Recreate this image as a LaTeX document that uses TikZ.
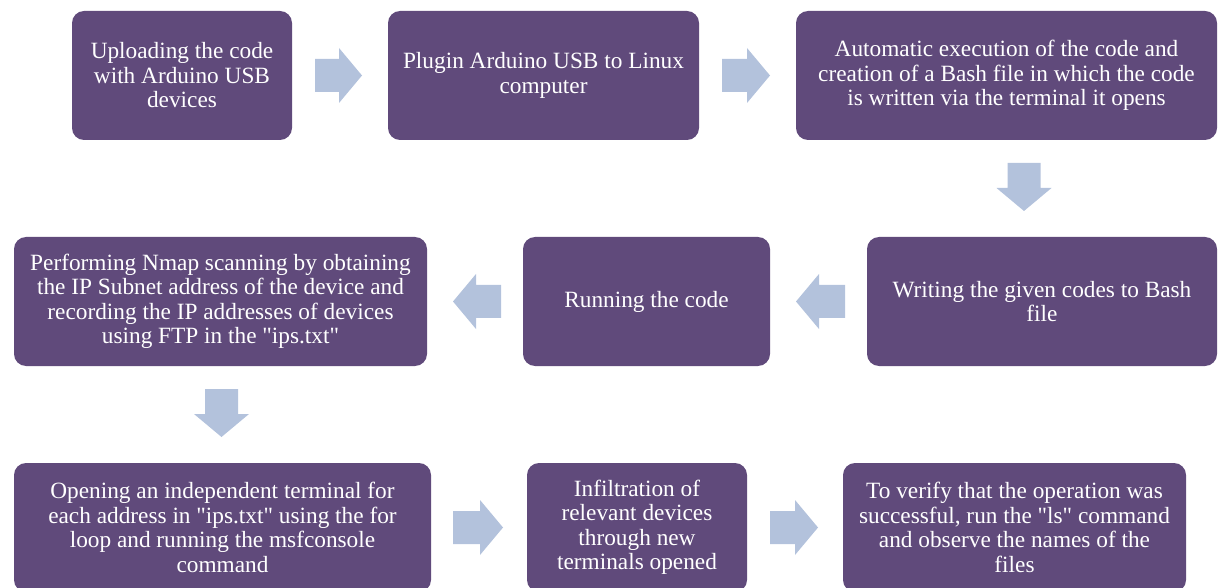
\documentclass[tikz,border=0pt]{standalone}
\usepackage{fontspec}
\newfontfamily\boxfont{Liberation Serif}
\definecolor{boxpurple}{RGB}{96,74,123}
\definecolor{arrowblue}{RGB}{179,194,220}
\tikzset{
  stepbox/.style={draw=none, fill=boxpurple, rounded corners=12pt, text=white, align=center,
    font=\boxfont\fontsize{23.3}{24.5}\selectfont, inner sep=0pt},
  blockarrow/.style={fill=arrowblue, draw=none}
}
\newcommand{\rarrow}[3]{% x0, x1, yc
  \fill[blockarrow] (#1,#3-16.5) -- (#2-23,#3-16.5) -- (#2-23,#3-27.5) -- (#2,#3) -- (#2-23,#3+27.5) -- (#2-23,#3+16.5) -- (#1,#3+16.5) -- cycle;}
\newcommand{\larrow}[3]{% x0 (tip), x1, yc
  \fill[blockarrow] (#2,#3-16.5) -- (#1+23,#3-16.5) -- (#1+23,#3-27.5) -- (#1,#3) -- (#1+23,#3+27.5) -- (#1+23,#3+16.5) -- (#2,#3+16.5) -- cycle;}
\newcommand{\darrow}[3]{% xc, y0, y1(tip)
  \fill[blockarrow] (#1-16.5,#2) -- (#1+16.5,#2) -- (#1+16.5,#3-23) -- (#1+27.5,#3-23) -- (#1,#3) -- (#1-27.5,#3-23) -- (#1-16.5,#3-23) -- cycle;}
\begin{document}
\begin{tikzpicture}[x=1pt,y=-1pt]
\useasboundingbox (0,0) rectangle (1219,588);
% row 1
\node[stepbox, minimum width=220pt, minimum height=129pt] (b1) at (182,75.5)
  {Uploading the code\\with Arduino USB\\devices};
\node[stepbox, minimum width=311pt, minimum height=129pt] (b2) at (543.5,75.5)
  {Plugin Arduino USB to Linux\\computer};
\node[stepbox, minimum width=421pt, minimum height=129pt] (b3) at (1006.5,75.5)
  {Automatic execution of the code and\\creation of a Bash file in which the code\\is written via the terminal it opens};
% row 2
\node[stepbox, minimum width=413pt, minimum height=129pt] (b4) at (220.5,301.5)
  {Performing Nmap scanning by obtaining\\the IP Subnet address of the device and\\recording the IP addresses of devices\\using FTP in the "ips.txt"};
\node[stepbox, minimum width=247pt, minimum height=129pt] (b5) at (646.5,301.5)
  {Running the code};
\node[stepbox, minimum width=350pt, minimum height=129pt] (b6) at (1042,301.5)
  {Writing the given codes to Bash\\file};
% row 3
\node[stepbox, minimum width=417pt, minimum height=129pt] (b7) at (222.5,527.5)
  {Opening an independent terminal for\\each address in "ips.txt" using the for\\loop and running the msfconsole\\command};
\node[stepbox, minimum width=220pt, minimum height=129pt] (b8) at (637,527.5)
  {Infiltration of\\relevant devices\\through new\\terminals opened};
\node[stepbox, minimum width=343pt, minimum height=129pt] (b9) at (1014.5,527.5)
  {To verify that the operation was\\successful, run the "ls" command\\and observe the names of the\\files};
% arrows
\rarrow{315}{362}{75.5}
\rarrow{722}{770}{75.5}
\darrow{1024}{163}{211}
\larrow{453}{501}{301.5}
\larrow{796}{845}{301.5}
\darrow{221.5}{389}{437}
\rarrow{453}{503}{527.5}
\rarrow{770}{818}{527.5}
\end{tikzpicture}
\end{document}
